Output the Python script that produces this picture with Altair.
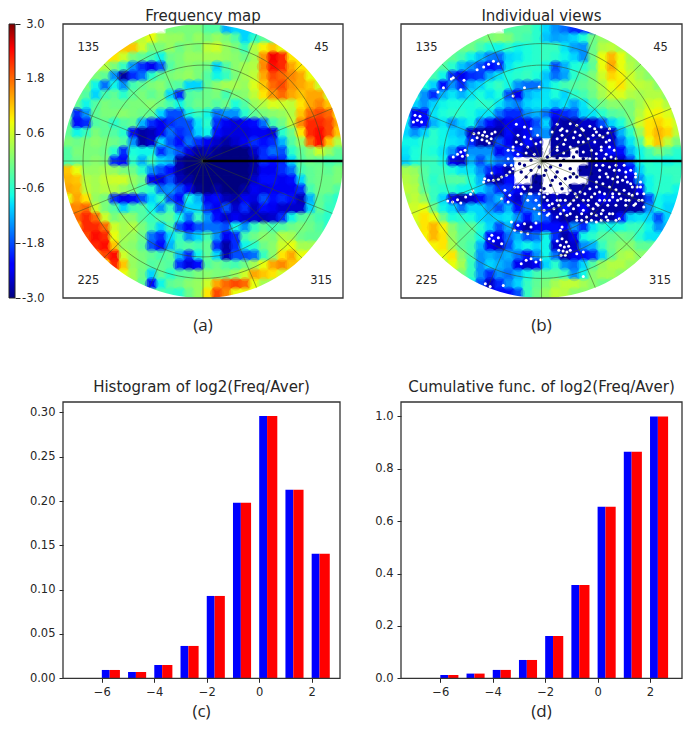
import math
import altair as alt

# Colour stops of the map scale
T = [0, .11, .125, .34, .375, .64, .66, .89, .91, 1]
JET = ["#00007f", "#0000ff", "#0000ff", "#00dcff", "#14ffe2", "#eeff08", "#ffec00", "#ff1300", "#ff0000", "#7f0000"]
CB_TICKS = [-3.0, -1.8, -0.6, 0.6, 1.8, 3.0]

# Map (a): log2 ratio x10, per row: first column, then values on a 30x29 grid
A_START = [13,7,6,5,4,3,2,1,1,0,0,0,0,0,0,0,0,0,0,1,1,1,2,3,3,4,6,7,10]
A_ROWS = [
[0,0,-3,-3,-12,-10],
[3,5,8,3,2,2,0,2,0,2,0,-3,-10,-6,-2],
[12,12,6,0,0,2,-1,1,0,5,6,2,0,-5,4,9,12,8],
[10,6,0,-2,-4,-8,-1,0,2,2,3,3,2,1,-1,3,15,25,22,10],
[4,0,-5,-14,-20,-24,-18,-3,0,1,0,-1,-10,-3,1,3,4,16,24,22,14,10],
[0,-2,-14,-28,-20,-16,-6,-2,0,1,2,0,-3,-8,-5,0,3,5,14,20,18,16,14,8],
[0,-8,-16,-8,-14,-4,-2,0,1,-2,-3,-10,-10,-2,1,3,3,2,7,12,18,20,15,14,12,6],
[0,-3,-10,-4,-2,-6,-2,0,-2,0,-10,-20,-3,-2,-1,0,-4,0,1,5,10,15,18,14,12,14,14,6],
[-2,-8,-3,0,-1,-1,0,0,1,-1,-4,-8,-3,-1,-1,-3,-1,-7,-3,2,4,7,6,5,10,14,16,12,4],
[-2,-20,-14,-2,0,0,1,0,-1,-2,-10,-18,-18,-8,-5,-8,-16,-14,-14,-6,-2,0,1,2,4,12,18,20,18,10],
[-2,-22,-20,-3,-2,-6,-3,-2,-12,-20,-24,-20,-18,-18,-9,-6,-20,-24,-25,-24,-22,-16,-4,-1,5,16,22,22,20,14],
[-2,-8,-5,0,-2,-3,-6,-22,-28,-27,-24,-16,-20,-18,-10,-8,-22,-25,-25,-25,-24,-24,-25,-6,-1,10,22,24,20,12],
[0,-1,0,1,0,-1,-3,-14,-28,-26,-10,-18,-22,-16,-20,-24,-26,-28,-26,-24,-20,-22,-20,-12,-3,2,18,24,12,4],
[-3,0,0,0,-1,-6,-20,-7,-8,-8,-20,-14,-18,-25,-28,-27,-29,-30,-30,-30,-26,-20,-16,-18,-6,-2,1,6,2,-2],
[-3,-1,0,1,0,-20,-22,-6,-12,-5,-10,-12,-28,-30,-30,-30,-30,-30,-30,-30,-28,-20,-22,-20,-10,-3,-1,-2,-4,-3],
[12,8,2,2,3,2,0,-1,-6,-14,-18,-22,-28,-30,-30,-30,-30,-30,-30,-30,-28,-24,-24,-20,-16,-4,-2,-1,-2,0],
[13,12,4,3,5,6,6,2,-1,-24,-25,-18,-27,-28,-30,-30,-30,-30,-30,-30,-26,-22,-22,-24,-22,-10,-2,-1,-1,0],
[14,13,5,3,4,4,2,0,-4,-6,-16,-14,-18,-24,-29,-30,-28,-30,-30,-28,-24,-25,-24,-24,-24,-20,-4,-1,-1,-3],
[8,14,10,2,0,-20,-24,-22,-18,-10,-6,-18,-22,-8,-12,-24,-22,-27,-28,-24,-25,-18,-22,-20,-22,-27,-12,-2,-4,-6],
[16,18,6,0,-3,-10,-4,-3,-8,-14,-5,-18,-10,-10,-20,-24,-18,-26,-20,-27,-22,-24,-26,-26,-26,-10,-2,-5],
[18,22,18,6,0,2,1,-3,-5,-3,-2,-8,-16,-5,-14,-22,-26,-24,-26,-26,-27,-26,-20,-8,-3,-2,-4,-6],
[14,22,22,18,6,3,4,0,-4,-10,-4,-18,-23,-18,-16,-16,-18,-8,-14,-5,-2,-4,-3,-1,0,-1,-3,-6],
[20,24,22,8,3,2,-1,-16,-20,-10,-5,-14,-10,-4,-14,-24,-20,-4,-1,1,0,4,3,-1,-2],
[22,24,12,2,1,-2,-18,-22,-12,-4,-3,-4,-2,-20,-28,-20,-8,-6,-1,1,6,8,3],
[16,20,24,6,2,0,-2,-4,-2,-12,-20,-8,-2,-10,-27,-18,-18,-16,-5,1,10,14,8],
[10,22,12,2,0,-3,-2,-3,-20,-25,-22,-3,-1,-3,-4,-1,3,8,14,16,12],
[8,3,-1,-10,-2,-6,-3,-2,0,1,0,0,2,6,14,12,10,6],
[2,-2,-22,-8,-2,-1,1,2,6,14,18,20,18,8,3],
[-3,-5,-6,-1,2,10,20,16,8],
]

# Map (b): same grid; 99 marks cells that are empty (white)
B_START = [13,7,6,5,4,3,2,1,1,0,0,0,0,0,0,0,0,0,0,1,1,1,2,3,3,4,6,7,10]
B_ROWS = [
[-3,-6,-10,-14,-16,-20],
[-1,-1,0,1,0,-3,-4,-6,-11,-13,-12,-10,-7,-1,2],
[-1,-1,-4,-7,-8,-6,-8,-7,-6,-5,-5,-9,-13,-14,-1,4,5,3],
[-2,-4,-8,-11,-15,-16,-10,-9,-7,-6,-5,-6,-8,-10,-14,-1,8,13,8,3],
[-3,-6,-11,-14,-18,-22,-20,-9,-7,-6,-6,-8,-18,-12,-7,-6,-2,8,14,8,4,2],
[-4,-8,-20,-24,-20,-19,-12,-9,-7,-6,-5,-7,-11,-16,-13,-6,-3,0,6,11,9,6,3,1],
[-7,-10,-22,-14,-20,-12,-10,-7,-5,-8,-14,-16,-16,-10,-7,-4,-3,-2,0,4,8,10,6,5,4,1],
[-6,-14,-20,-12,-9,-12,-9,-7,-9,-7,-18,-24,-12,-10,-9,-7,-10,-6,-4,-1,3,6,7,4,3,4,4,1],
[-10,-14,-10,-8,-7,-7,-7,-6,-6,-9,-13,-15,-10,-9,-9,-11,-9,-13,-9,-4,-1,1,1,0,3,6,7,4,2],
[-9,-24,-22,-9,-7,-6,-6,-7,-9,-9,-16,-20,-20,-14,-12,-16,-22,-20,-18,-10,-9,-6,-3,-2,0,4,8,9,7,3],
[-9,-24,-22,-12,-9,-14,-10,-8,-16,-22,-26,-24,-22,-24,-18,-10,-26,-28,-28,-26,-26,-18,-10,-7,-1,6,10,11,9,6],
[-10,-14,-10,-6,-8,-10,-12,-26,-28,-28,-28,-22,-26,-24,-16,-14,-28,-28,-28,-28,-28,-28,-26,-12,-6,2,10,13,11,5],
[-8,-8,-6,-6,-8,-9,-10,-20,-28,-28,-18,-24,-28,-22,-26,99,-28,-28,-28,-28,-26,-28,-26,-16,-9,-3,8,12,5,0],
[-9,-7,-6,-7,-9,-14,-24,-14,-14,-14,-24,-20,-22,-28,-28,99,-28,-28,99,-28,-28,-26,-22,-22,-12,-8,-4,0,-3,-6],
[-10,-7,-5,-5,-8,-24,-26,-12,-18,-12,-16,-18,99,99,99,99,99,99,99,99,-28,-26,-28,-26,-18,-8,-6,-7,-8,-7],
[3,2,-3,-5,-5,-7,-9,-9,-14,-20,-24,-28,99,99,99,99,99,99,99,-28,-28,-28,-28,-26,-22,-10,-6,-6,-5,-5],
[4,3,-3,-6,-4,-3,-3,-7,-12,-26,-28,-22,99,99,-28,99,99,99,99,99,-28,-28,-28,-28,-26,-14,-8,-6,-6,-5],
[5,4,-2,-5,-6,-6,-8,-8,-10,-14,-20,-20,-24,-28,-28,99,99,99,-28,-28,-28,-28,-28,-28,-28,-24,-8,-6,-6,-8],
[3,5,2,-5,-10,-24,-28,-26,-22,-16,-12,-22,-26,-16,-18,-28,-26,-28,-28,-28,-28,-24,-26,-28,-28,-28,-18,-8,-9,-9],
[6,8,-1,-8,-10,-16,-10,-10,-14,-18,-12,-22,-16,-16,-24,-28,-22,-28,-24,-28,-28,-28,-28,-28,-28,-14,-8,-10],
[7,10,8,-1,-7,-6,-7,-10,-11,-10,-9,-14,-22,-14,-18,-26,-28,-28,-28,-28,-28,-28,-22,-10,-9,-10,-18,-10],
[5,10,13,9,1,-3,-2,-6,-10,-18,-12,-24,-28,-24,-22,-22,-24,-14,-20,-9,-6,-8,-7,-5,-5,-8,-14,-12],
[9,13,10,2,-2,-3,-8,-22,-24,-16,-12,-18,-16,-8,-20,-28,-24,-8,-6,-3,-2,-1,-2,-6,-9],
[9,10,3,-2,-4,-12,-24,-26,-18,-10,-8,-10,-8,-26,-28,-26,-14,-12,-5,-1,1,1,-2],
[6,8,10,1,-4,-14,-12,-14,-12,-16,-22,-14,-8,-16,-28,-24,-22,-20,-10,-2,3,4,1],
[3,8,3,-5,-14,-10,-12,-14,-24,-26,-24,-10,-6,-14,-16,-10,-3,2,4,4,2],
[0,-5,-14,-20,-14,-16,-12,-8,-4,-3,-3,-5,-14,-8,1,3,3,1],
[-8,-18,-26,-20,-14,-10,-5,-2,0,3,5,5,3,1,-1],
[-22,-22,-18,-5,-1,2,5,4,1],
]

# Empty-bin specks of map (b), read at 3x of the picture
WHITE_X = [445,460,430,415,322,316,292,275,345,355,395,205,220,212,225,200,505,540,585,
 385,400,412,425,440,395,410,425,438,450,380,418,432,322,335,345,358,350,365,
 305,320,335,345,360,382,375,415,430,445,460,470,485,495,505,440,418,
 640,680,700,740,775,800,625,650,670,695,720,760,795,540,515,560,540,640,665,690,735,780,800,
 505,530,550,575,640,660,680,700,775,800,520,545,570,660,720,760,790,805,
 800,830,850,880,790,810,840,865,885,780,800,820,845,870,890,905,880,860,835,810,785,760,745,720,700,680,650,625,600,575,560,540,520,590,620,650,680,710,740,770,
 570,600,630,660,690,720,750,780,810,830,790,760,730,700,670,640,610,730,760,
 500,520,540,560,575,510,530,550,650,655,432,445,460,470,440,
 640,655,668,650,662,675,645,658,670,680,665,652,720,700,530,545,560,575,590,720,420,435,475,480,495,470,490,
 560,655,715,755,520,580,655,710,750,770,515,590,705,720,755,790,
 490,505,600,640,685,745,775,815,490,510,740,760,785,820,480,500,760,780,820,845,770,815,865,
 770,795,825,850,880,760,825,855,895,510,535,560,760,870,895,
 530,555,585,610,640,670,695,725,755,785,810,830,860,885,905,
 550,610,640,665,690,735,770,800,825,850,900,
 585,615,645,675,705,735,765,795,820,850,875,
 585,615,650,680,715,745,775,800,700,715,745,775,795,820]
WHITE_Y = [183,190,192,200,232,236,262,275,268,240,208,345,348,360,365,365,287,262,260,
 400,398,405,408,400,412,418,422,415,395,420,395,428,470,462,455,450,468,465,
 602,605,598,608,590,572,582,545,540,540,537,530,525,515,505,518,535,
 372,370,375,378,380,385,395,390,392,395,390,395,398,380,372,415,410,415,418,412,415,410,420,
 440,432,440,430,440,432,440,445,440,440,462,458,462,458,455,460,462,470,
 500,510,515,520,520,535,540,550,560,550,560,568,570,585,600,620,610,600,595,590,600,610,590,600,590,610,600,610,590,600,580,565,560,570,575,570,570,575,565,575,
 625,630,625,630,625,630,625,630,640,655,650,645,650,650,645,650,645,665,665,
 665,675,670,680,668,690,695,700,690,680,715,722,712,730,705,
 722,715,725,735,740,738,750,752,755,750,765,765,755,760,790,780,775,785,778,828,850,858,855,570,585,595,605,
 385,385,385,385,405,405,405,405,405,405,425,425,425,425,425,425,
 450,450,450,450,450,450,450,450,475,475,475,475,475,475,495,495,495,495,495,495,510,510,510,
 530,530,530,530,530,545,545,545,545,560,560,560,560,560,560,
 580,580,580,580,580,580,580,580,580,580,580,580,580,580,580,
 600,600,600,600,600,600,600,600,600,600,600,
 615,615,615,615,615,615,615,615,615,615,615,
 640,640,640,640,640,640,640,640,660,660,660,660,660,660]
NAVY_X = [620,650,680,710,600,635,665,700,585,560,540,530,690,660,720,650,680,620,590,
 610,640,672,700,730,560,575,525,545,605,640,690,625,600,575,745,655,720,680]
NAVY_Y = [500,495,505,510,525,530,535,530,500,510,495,515,470,480,475,550,555,555,550,
 470,472,458,455,500,480,525,490,530,510,515,520,540,565,545,520,565,555,530]

# Bars
BINS = [-6,-5,-4,-3,-2,-1,0,1,2]
HIST = [.0094,.0071,.015,.0365,.0929,.198,.296,.2128,.1406]
CUM = [.0127,.018,.032,.07,.1616,.356,.655,.865,1.0]
TEXT = "#262626"
DEJA = "DejaVu Sans"


def cells(starts, rows):
    out = []
    for j, (s, r) in enumerate(zip(starts, rows)):
        vals = [r[0]] * 2 + r + [r[-1]] * 2
        for k, v in enumerate(vals):
            c = s - 2 + k
            if 0 <= c < 30 and v != 99:
                out.append({"c": c, "r": j, "v": v / 10})
    return out


def polar_map(title, cap, starts, rows, W, H, dots=None):
    xs = alt.Scale(domain=[0, 30], nice=False, zero=False)
    ys = alt.Scale(domain=[29, 0], nice=False, zero=False)
    X = alt.X("x:Q", scale=xs, axis=None)
    Y = alt.Y("y:Q", scale=ys, axis=None)
    col = alt.Color("v:Q", legend=None,
                    scale=alt.Scale(domain=[t * 6 - 3 for t in T], range=JET, interpolate="rgb"))
    data = alt.Data(values=cells(starts, rows))
    base = (alt.Chart(data)
            .transform_calculate(x="datum.c", x2="datum.c+1.07", y="datum.r", y2="datum.r+1.07")
            .mark_rect(clip=True).encode(X, Y, x2="x2:Q", y2="y2:Q", color=col))
    soft = (alt.Chart(data)
            .transform_calculate(x="datum.c+0.5", y="datum.r+0.5")
            .mark_circle(opacity=.4, size=190, clip=True).encode(X, Y, color=col))
    layers = [base, soft]
    ry = round(H / W, 4)
    mask = (f"M-1,-{ry}H1V{ry}H-1Z"
            f"M-1,0A1,{ry},0,1,0,1,0A1,{ry},0,1,0,-1,0Z")
    layers.append(alt.Chart(alt.Data(values=[{"x": 15, "y": 14.5}])).mark_point(
        shape=mask, filled=True, fill="white", opacity=1, size=W * W, strokeWidth=0).encode(X, Y))
    if dots:
        for (dx_, dy_, c_, sz) in dots:
            pts = [{"x": (a - 162) / 28.67, "y": (b - 71) / 28.34} for a, b in zip(dx_, dy_)]
            layers.append(alt.Chart(alt.Data(values=pts)).mark_circle(color=c_, size=sz, opacity=1).encode(X, Y))
    ring_path = f"M-1,0A1,{ry},0,1,1,1,0A1,{ry},0,1,1,-1,0Z"
    rings = [{"x": 15, "y": 14.5, "s": (W * f) ** 2} for f in [.36, .535, .70, .857]]
    layers.append(alt.Chart(alt.Data(values=rings)).mark_point(
        shape=ring_path, filled=False, stroke="#3a4a20", strokeOpacity=.6, strokeWidth=.9, opacity=1)
        .encode(X, Y, size=alt.Size("s:Q", scale=None, legend=None)))
    spokes = []
    for a in range(1, 16):
        th = math.radians(a * 22.5)
        spokes.append({"x": 15, "y": 14.5, "x2": 15 + 15 * math.cos(th), "y2": 14.5 - 14.5 * math.sin(th)})
    layers.append(alt.Chart(alt.Data(values=spokes)).mark_rule(color="#3a4a20", strokeOpacity=.55, strokeWidth=.9)
                  .encode(X, Y, x2="x2:Q", y2="y2:Q"))
    layers.append(alt.Chart(alt.Data(values=[{"x": 15, "y": 14.5, "x2": 30}])).mark_rule(color="black", strokeWidth=2.4)
                  .encode(X, Y, x2="x2:Q"))
    quad = [{"x": 2.72, "y": 2.5, "t": "135"}, {"x": 27.7, "y": 2.5, "t": "45"},
            {"x": 2.72, "y": 27.2, "t": "225"}, {"x": 27.66, "y": 27.2, "t": "315"}]
    layers.append(alt.Chart(alt.Data(values=quad)).mark_text(font=DEJA, fontSize=11.5, color=TEXT)
                  .encode(X, Y, text="t:N"))
    layers.append(frame(W, H))
    layers.append(caption(cap, W, H + 28))
    layers.append(head(title, W, -8))
    return alt.layer(*layers).properties(width=W, height=H)


def frame(W, H):
    return alt.Chart(alt.Data(values=[{}])).mark_rect(filled=False, stroke="#333333", strokeWidth=1.3).encode(
        x=alt.value(0), x2=alt.value(W), y=alt.value(0), y2=alt.value(H))


def caption(t, W, y):
    return alt.Chart(alt.Data(values=[{"t": t}])).mark_text(font="Open Sans", fontSize=17, color=TEXT).encode(
        x=alt.value(W / 2), y=alt.value(y), text="t:N")


def head(t, W, y):
    return alt.Chart(alt.Data(values=[{"t": t}])).mark_text(font=DEJA, fontSize=15, color=TEXT).encode(
        x=alt.value(W / 2), y=alt.value(y), text="t:N")


def bars(title, cap, vals, ymax, ticks, fmt, W, H, xmin, xmax):
    rows = [{"b": b, "v": v} for b, v in zip(BINS, vals)]
    xsc = alt.Scale(domain=[xmin, xmax], nice=False, zero=False)
    ysc = alt.Scale(domain=[0, ymax], nice=False)
    xa = alt.Axis(values=[-6, -4, -2, 0, 2], grid=False, domain=False, title=None, tickColor=TEXT, labelColor=TEXT,
                  labelFont=DEJA, labelFontSize=11.5, tickSize=4, labelPadding=4, labelFlush=False)
    ya = alt.Axis(values=ticks, format=fmt, grid=False, domain=False, title=None, tickColor=TEXT, labelColor=TEXT,
                  labelFont=DEJA, labelFontSize=11.5, tickSize=4, labelPadding=4)
    blue = (alt.Chart(alt.Data(values=rows)).transform_calculate(x1="datum.b", x2="datum.b+0.3")
            .mark_rect(color="#0000ff")
            .encode(x=alt.X("x1:Q", scale=xsc, axis=xa), x2="x2:Q",
                    y=alt.Y("v:Q", scale=ysc, axis=ya), y2=alt.datum(0)))
    red = (alt.Chart(alt.Data(values=rows)).transform_calculate(x1="datum.b+0.3", x2="datum.b+0.69")
           .mark_rect(color="#ff0000")
           .encode(x=alt.X("x1:Q", scale=xsc, axis=xa), x2="x2:Q",
                   y=alt.Y("v:Q", scale=ysc, axis=ya), y2=alt.datum(0)))
    return alt.layer(blue, red, frame(W, H), caption(cap, W, H + 34), head(title, W, -15)).properties(width=W, height=H)


stops = [alt.GradientStop(offset=t, color=c) for t, c in zip(T, JET)]
cbar = (alt.Chart(alt.Data(values=[{"a": -3, "b": 3}]))
        .mark_rect(stroke="#222222", strokeWidth=1,
                   fill=alt.LinearGradient(gradient="linear", stops=stops, x1=0, x2=0, y1=1, y2=0))
        .encode(y=alt.Y("a:Q", scale=alt.Scale(domain=[-3, 3], nice=False),
                        axis=alt.Axis(orient="right", values=CB_TICKS, format=".1f", grid=False, domain=False, title=None,
                                      labelExpr="replace(datum.label, '\u2212', '-')",
                                      labelAlign="right", labelPadding=24, tickSize=5, tickColor=TEXT,
                                      labelColor=TEXT, labelFont=DEJA, labelFontSize=11.5)),
                y2="b:Q", x=alt.value(0), x2=alt.value(6))
        .properties(width=6, height=274))

a = polar_map("Frequency map", "(a)", A_START, A_ROWS, 280, 274)
b = polar_map("Individual views", "(b)", B_START, B_ROWS, 281, 274,
              dots=[(WHITE_X, WHITE_Y, "white", 9), (NAVY_X, NAVY_Y, "#00007f", 12)])
c = bars("Histogram of log2(Freq/Aver)", "(c)", HIST, .3117, [0, .05, .1, .15, .2, .25, .3], ".2f", 277, 276.3, -7.48, 3.08)
d = bars("Cumulative func. of log2(Freq/Aver)", "(d)", CUM, 1.055, [0, .2, .4, .6, .8, 1.0], ".1f", 281, 276.3, -7.5, 3.22)

spacer = (alt.Chart(alt.Data(values=[{"x": 0}])).mark_point(opacity=0)
          .encode(x=alt.X("x:Q", axis=None), y=alt.Y("x:Q", axis=None)).properties(width=6, height=276))

row1 = alt.hconcat(cbar, alt.hconcat(a, b, spacing=58, bounds="flush"), spacing=48, bounds="flush")
row2 = alt.hconcat(spacer, alt.hconcat(c, d, spacing=61, bounds="flush"), spacing=48, bounds="flush")
chart = (alt.vconcat(row1, row2, spacing=46)
         .resolve_scale(color="independent")
         .properties(padding={"top": 1, "left": 0, "right": 0, "bottom": 0}, background="white")
         .configure_view(stroke=None))
chart.save("out.html", embed_options={"renderer": "svg", "actions": False})
